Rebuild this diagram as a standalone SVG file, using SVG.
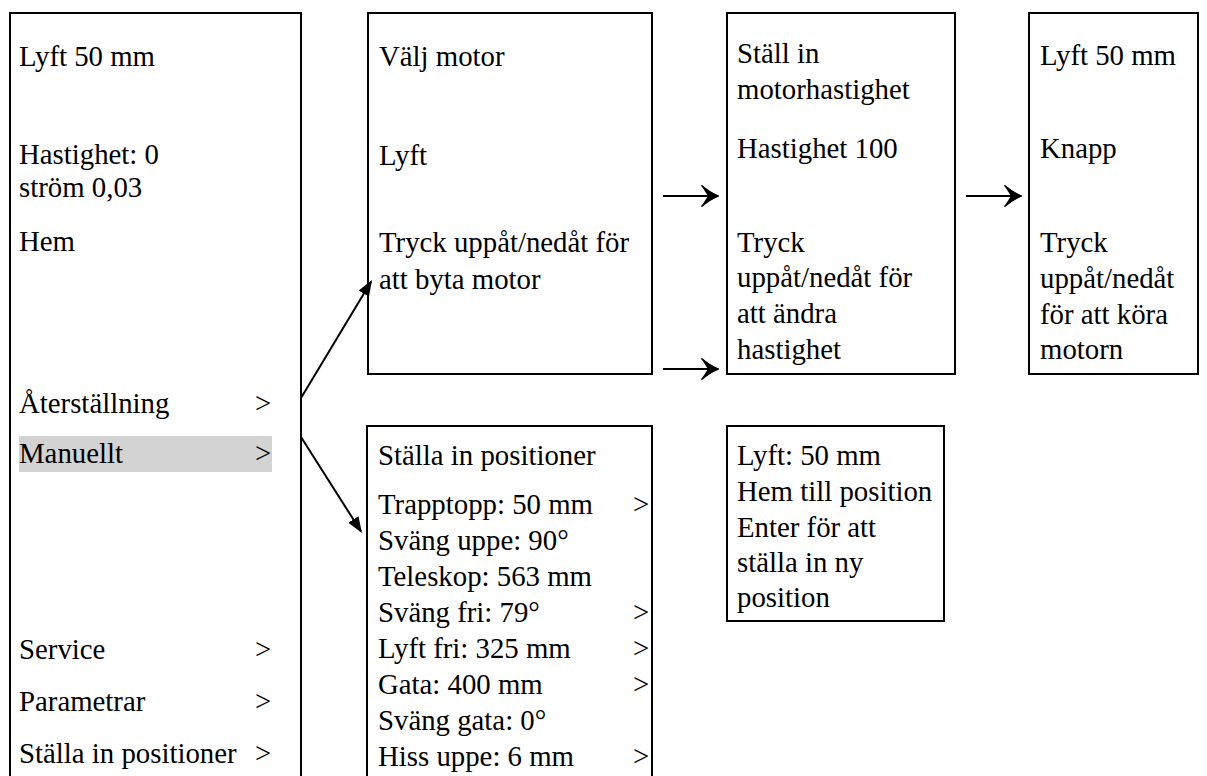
<svg xmlns="http://www.w3.org/2000/svg" width="1207" height="776" viewBox="0 0 1207 776">
<style>
.box{fill:none;stroke:#000;stroke-width:2}
.t{font-family:'Liberation Serif',serif;font-size:28.8px;fill:#000}
.con{stroke:#000;stroke-width:2;fill:none}
</style>
<defs>
<marker id="tri" viewBox="0 0 16 12" refX="14" refY="6" markerWidth="16" markerHeight="12" markerUnits="userSpaceOnUse" orient="auto">
<path d="M0,0 L16,6 L0,12 Z" fill="#000"/>
</marker>
<marker id="open" viewBox="0 0 18 22" refX="15" refY="11" markerWidth="18" markerHeight="22" markerUnits="userSpaceOnUse" orient="auto">
<path d="M17.5,11 C12,8.5 5,4 0,0 C3,5 5.5,8.5 7,11 C5.5,13.5 3,17 0,22 C5,18 12,13.5 17.5,11 Z" fill="#000"/>
<path d="M0.5,0.5 C5,4.5 12,9 17,11 C12,13 5,17.5 0.5,21.5" fill="none" stroke="#000" stroke-width="1.5"/>
</marker>
</defs>
<rect width="1207" height="776" fill="#fff"/>

<g id="main-menu" class="t" font-family="Liberation Serif, serif">
<rect class="box" x="10" y="13" width="291" height="780"/>
<rect x="19" y="436" width="253" height="36" fill="#d3d3d3"/>
<text x="19" y="66">Lyft 50 mm</text>
<text x="19" y="164">Hastighet: 0</text>
<text x="19" y="197">ström 0,03</text>
<text x="19" y="251">Hem</text>
<text x="19" y="413">Återställning</text><text x="255" y="413">&gt;</text>
<text x="19" y="463">Manuellt</text><text x="255" y="463">&gt;</text>
<text x="19" y="659">Service</text><text x="255" y="659">&gt;</text>
<text x="19" y="711">Parametrar</text><text x="255" y="711">&gt;</text>
<text x="19" y="763">Ställa in positioner</text><text x="255" y="763">&gt;</text>
</g>

<g id="valj-motor" class="t" font-family="Liberation Serif, serif">
<rect class="box" x="368" y="13" width="284" height="361"/>
<text x="379" y="66">Välj motor</text>
<text x="379" y="165">Lyft</text>
<text x="379" y="252">Tryck uppåt/nedåt för</text>
<text x="379" y="289">att byta motor</text>
</g>

<g id="motorhastighet" class="t" font-family="Liberation Serif, serif">
<rect class="box" x="727" y="13" width="228" height="361"/>
<text x="737" y="63">Ställ in</text>
<text x="737" y="99">motorhastighet</text>
<text x="737" y="158">Hastighet 100</text>
<text x="737" y="252">Tryck</text>
<text x="737" y="287">uppåt/nedåt för</text>
<text x="737" y="323">att ändra</text>
<text x="737" y="359">hastighet</text>
</g>

<g id="kor-motor" class="t" font-family="Liberation Serif, serif">
<rect class="box" x="1029" y="13" width="169" height="361"/>
<text x="1040" y="65">Lyft 50 mm</text>
<text x="1040" y="158">Knapp</text>
<text x="1040" y="252">Tryck</text>
<text x="1040" y="288">uppåt/nedåt</text>
<text x="1040" y="324">för att köra</text>
<text x="1040" y="359">motorn</text>
</g>

<g id="stalla-in-positioner" class="t" font-family="Liberation Serif, serif">
<rect class="box" x="367" y="426" width="285" height="380"/>
<text x="378" y="465">Ställa in positioner</text>
<text x="378" y="514">Trapptopp: 50 mm</text><text x="633" y="514">&gt;</text>
<text x="378" y="550">Sväng uppe: 90°</text>
<text x="378" y="586">Teleskop: 563 mm</text>
<text x="378" y="622">Sväng fri: 79°</text><text x="633" y="622">&gt;</text>
<text x="378" y="658">Lyft fri: 325 mm</text><text x="633" y="658">&gt;</text>
<text x="378" y="694">Gata: 400 mm</text><text x="633" y="694">&gt;</text>
<text x="378" y="730">Sväng gata: 0°</text>
<text x="378" y="766">Hiss uppe: 6 mm</text><text x="633" y="766">&gt;</text>
</g>

<g id="lyft-position" class="t" font-family="Liberation Serif, serif">
<rect class="box" x="727" y="426" width="217" height="195"/>
<text x="737" y="465">Lyft: 50 mm</text>
<text x="737" y="501">Hem till position</text>
<text x="737" y="537">Enter för att</text>
<text x="737" y="572">ställa in ny</text>
<text x="737" y="607">position</text>
</g>

<g id="connectors">
<line class="con" x1="301" y1="398" x2="371" y2="281.7" marker-end="url(#tri)"/>
<line class="con" x1="301" y1="437" x2="360.9" y2="531.3" marker-end="url(#tri)"/>
<line class="con" x1="663" y1="196" x2="716" y2="196" marker-end="url(#open)"/>
<line class="con" x1="663" y1="369" x2="716" y2="369" marker-end="url(#open)"/>
<line class="con" x1="966" y1="196" x2="1019" y2="196" marker-end="url(#open)"/>
</g>
</svg>
